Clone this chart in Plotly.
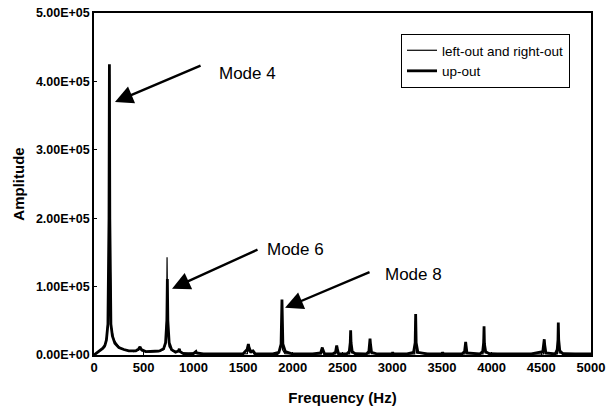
import plotly.graph_objects as go

# ---- data ----
freq_lr = [0, 40, 80, 110, 128, 140, 150, 156, 162, 175,
           200, 260, 320, 400, 450, 465, 480, 560, 650, 700,
           720, 730, 735, 742, 755, 790, 850, 860, 870, 950,
           1020, 1030, 1040, 1200, 1543, 1550, 1556, 1580, 1598, 1605,
           1640, 1850, 1882, 1889, 1896, 1920, 2100, 2288, 2296, 2310,
           2432, 2441, 2455, 2572, 2580, 2592, 2768, 2776, 2790, 3000,
           3227, 3234, 3245, 3500, 3732, 3738, 3748, 3914, 3922, 3935,
           4200, 4522, 4529, 4540, 4662, 4669, 4680, 5000]
amp_lr = [0, 4000, 9000, 12000, 27000, 50000, 150000, 410000, 150000, 40000,
          22000, 10000, 7000, 5000, 7000, 11000, 6000, 4000, 5000, 8000,
          16000, 50000, 143000, 40000, 12000, 6000, 5000, 8000, 4000, 2000,
          3000, 5000, 2000, 1000, 2000, 12000, 6000, 3000, 6000, 2000,
          1000, 1000, 12000, 60000, 8000, 2000, 1000, 1500, 8000, 1500,
          1500, 10000, 1500, 1500, 28000, 3000, 1500, 20000, 2000, 1000,
          1500, 50000, 3000, 1000, 1500, 16000, 2000, 1500, 35000, 3000,
          1000, 1500, 20000, 2000, 1500, 40000, 3000, 1000]

freq_up = [0, 30, 60, 90, 110, 125, 140, 151, 155, 159,
           170, 185, 210, 250, 300, 350, 420, 450, 463, 476,
           520, 600, 660, 700, 720, 733, 738, 743, 756, 780,
           820, 850, 858, 866, 900, 1000, 1020, 1026, 1032, 1100,
           1300, 1500, 1540, 1549, 1553, 1558, 1575, 1600, 1620, 1800,
           1860, 1882, 1891, 1900, 1925, 2000, 2200, 2280, 2293, 2297,
           2302, 2318, 2400, 2430, 2439, 2442, 2446, 2460, 2540, 2568,
           2578, 2582, 2586, 2598, 2630, 2740, 2765, 2774, 2777, 2781,
           2792, 2850, 3000, 3005, 3010, 3150, 3215, 3231, 3236, 3241,
           3258, 3350, 3500, 3508, 3515, 3700, 3728, 3736, 3739, 3743,
           3752, 3880, 3910, 3920, 3924, 3928, 3940, 3980, 4200, 4400,
           4515, 4526, 4530, 4534, 4546, 4640, 4660, 4668, 4671, 4675,
           4686, 4720, 5000]
amp_up = [0, 3000, 6000, 10000, 14000, 22000, 45000, 200000, 425000, 200000,
          45000, 28000, 17000, 11000, 8000, 6000, 6000, 9000, 12000, 8000,
          5000, 5000, 6000, 9000, 18000, 50000, 111000, 50000, 18000, 8000,
          4000, 6000, 9000, 5000, 2000, 2000, 4000, 5000, 3000, 1500,
          1500, 2000, 8000, 14000, 16000, 12000, 5000, 6000, 2000, 1500,
          4000, 16000, 81000, 16000, 5000, 1500, 1500, 3000, 9000, 11000,
          8000, 2000, 1500, 4000, 12000, 14000, 10000, 2000, 1500, 5000,
          18000, 36000, 18000, 5000, 1500, 1500, 5000, 18000, 24000, 17000,
          4000, 1500, 1500, 4000, 1500, 1500, 4000, 18000, 60000, 18000,
          4000, 1500, 1500, 4000, 1500, 1500, 5000, 15000, 19000, 14000,
          3000, 1500, 5000, 18000, 42000, 16000, 5000, 1500, 1500, 1500,
          5000, 16000, 23000, 15000, 3000, 1500, 8000, 22000, 47500, 22000,
          6000, 1500, 1500]

assert len(freq_lr) == len(amp_lr), (len(freq_lr), len(amp_lr))
assert len(freq_up) == len(amp_up), (len(freq_up), len(amp_up))

series_names = ["left-out and right-out", "up-out"]
y_tickvals = [0, 100000, 200000, 300000, 400000, 500000]
y_ticktext = ["0.00E+00", "1.00E+05", "2.00E+05", "3.00E+05", "4.00E+05", "5.00E+05"]
x_tickvals = [0, 500, 1000, 1500, 2000, 2500, 3000, 3500, 4000, 4500, 5000]

# mode annotations: (label, arrow tip x, tip y, tail x, tail y, text x, text y)
modes = [
    ("Mode 4", 211, 370000, 1087, 424000, 1237, 412000),
    ("Mode 6", 785, 97000, 1660, 155000, 1720, 154000),
    ("Mode 8", 1922, 69000, 2787, 122000, 2905, 118000),
]

FONT = "Arial, 'Liberation Sans', sans-serif"

fig = go.Figure()
fig.add_trace(go.Scatter(x=freq_lr, y=amp_lr, mode="lines", name=series_names[0],
                         line=dict(color="black", width=1.2)))
fig.add_trace(go.Scatter(x=freq_up, y=amp_up, mode="lines", name=series_names[1],
                         line=dict(color="black", width=2.8)))

for label, tx, ty, ax, ay, lx, ly in modes:
    fig.add_annotation(x=tx, y=ty, ax=ax, ay=ay, xref="x", yref="y", axref="x", ayref="y",
                       text="", showarrow=True, arrowhead=2, arrowsize=1.5,
                       arrowwidth=2.4, arrowcolor="black")
    fig.add_annotation(x=lx, y=ly, xref="x", yref="y", text=label, showarrow=False,
                       xanchor="left", yanchor="middle",
                       font=dict(family=FONT, size=17, color="black"))

fig.update_layout(
    width=608, height=408,
    margin=dict(l=94, r=17, t=13, b=53, autoexpand=False),
    paper_bgcolor="white", plot_bgcolor="white",
    font=dict(family=FONT, color="black"),
    showlegend=True,
    legend=dict(x=0.6177, y=0.9386, xanchor="left", yanchor="top",
                bgcolor="white", bordercolor="black", borderwidth=1,
                font=dict(family=FONT, size=13.5, color="black"),
                tracegroupgap=0, itemwidth=30),
)
fig.update_xaxes(range=[0, 5000], tickvals=x_tickvals, showgrid=False, zeroline=False,
                 automargin=False,
                 showline=True, linecolor="black", linewidth=1.5, mirror=True,
                 ticks="inside", ticklen=3, tickcolor="black",
                 tickfont=dict(family=FONT, size=13, color="black", weight="bold"),
                 title=dict(text="<b>Frequency (Hz)</b>", standoff=18,
                            font=dict(family=FONT, size=15, color="black")))
fig.update_yaxes(range=[0, 500000], tickvals=y_tickvals, ticktext=y_ticktext,
                 showgrid=False, zeroline=False, automargin=False,
                 showline=True, linecolor="black", linewidth=1.5, mirror=True,
                 ticks="inside", ticklen=3, tickcolor="black",
                 tickfont=dict(family=FONT, size=12.5, color="black", weight="bold"),
                 title=dict(text="<b>Amplitude</b>", standoff=8,
                            font=dict(family=FONT, size=15, color="black")))

fig.write_html("out.html", config={"displayModeBar": False},
               post_script="document.body.style.margin='0px';document.body.style.padding='0px';")
